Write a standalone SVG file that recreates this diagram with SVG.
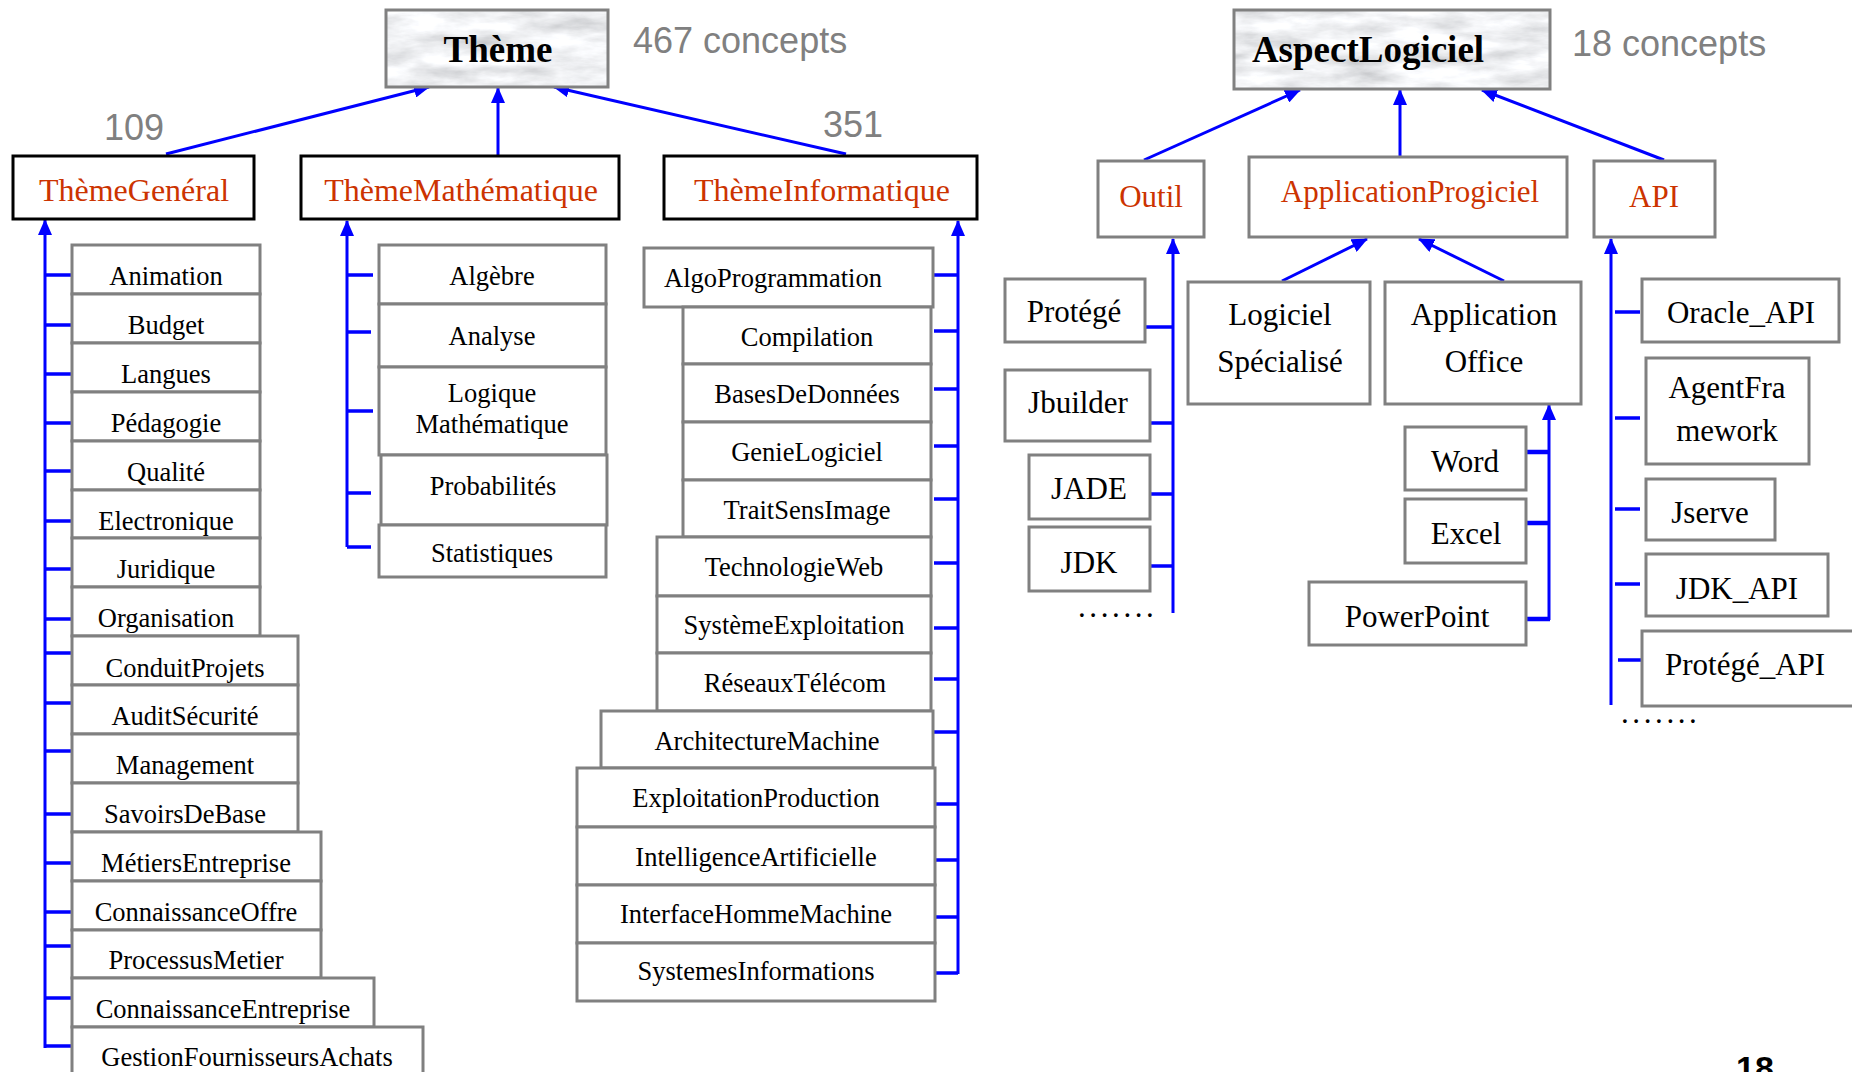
<svg xmlns="http://www.w3.org/2000/svg" width="1852" height="1072" viewBox="0 0 1852 1072">
  <style>
    .bg { fill: #ffffff; }
    .root { stroke: #808080; stroke-width: 3; }
    .cat { fill: #ffffff; stroke: #000000; stroke-width: 3; }
    .cat2 { fill: #ffffff; stroke: #808080; stroke-width: 3; }
    .box { fill: #ffffff; stroke: #808080; stroke-width: 3; }
    .rootTxt { font-family: "Liberation Serif", "Times New Roman", serif; font-weight: bold; font-size: 37px; fill: #000000; text-anchor: middle; }
    .catTxt { font-family: "Liberation Serif", "Times New Roman", serif; font-size: 32px; fill: #cc3300; text-anchor: middle; }
    .catTxt2 { font-family: "Liberation Serif", "Times New Roman", serif; font-size: 31px; fill: #cc3300; text-anchor: middle; }
    .t { font-family: "Liberation Serif", "Times New Roman", serif; font-size: 26.5px; fill: #000000; text-anchor: middle; }
    .t2 { font-family: "Liberation Serif", "Times New Roman", serif; font-size: 31px; fill: #000000; text-anchor: middle; }
    .count { font-family: "Liberation Sans", Arial, sans-serif; font-size: 36px; fill: #808080; }
    .dots { font-family: "Liberation Serif", "Times New Roman", serif; font-size: 31px; fill: #000000; letter-spacing: 3.6px; }
    .page { font-family: "Liberation Sans", Arial, sans-serif; font-weight: bold; font-size: 34px; fill: #000000; }
    .link { stroke: #0000ff; stroke-width: 3; fill: none; }
    .tick { stroke: #0000ff; stroke-width: 3.5; fill: none; }
  </style>
  <defs>
    <marker id="arr" markerUnits="userSpaceOnUse" markerWidth="16" markerHeight="14" refX="15" refY="7" orient="auto">
      <path d="M0,0 L16,7 L0,14 z" fill="#0000ff"/>
    </marker>
    <!-- light marble texture for the two root boxes -->
    <filter id="marble" x="0" y="0" width="1" height="1">
      <feTurbulence type="fractalNoise" baseFrequency="0.018 0.06" numOctaves="5" seed="11" result="n"/>
      <feColorMatrix in="n" type="matrix" values="0.7 0 0 0 0.52  0.7 0 0 0 0.53  0.7 0 0 0 0.55  0 0 0 0 1"/>
      <feComposite in2="SourceGraphic" operator="in"/>
    </filter>
  </defs>

  <rect class="bg" x="0" y="0" width="1852" height="1072"/>

  <!-- connectors -->
  <g id="connectors">
    <!-- Thème hierarchy -->
    <line class="link" x1="166" y1="154" x2="429" y2="87" marker-end="url(#arr)"/>
    <line class="link" x1="498" y1="156" x2="498" y2="88" marker-end="url(#arr)"/>
    <line class="link" x1="846" y1="154" x2="554" y2="87" marker-end="url(#arr)"/>

    <!-- ThèmeGenéral bus -->
    <line class="link" x1="45" y1="1048" x2="45" y2="220" marker-end="url(#arr)"/>
    <path class="tick" d="M44,275 H72 M44,325 H72 M46,374 H72 M46,423 H72 M46,471 H72 M46,521 H72 M46,569 H72 M46,619 H72 M46,653 H72 M46,703 H72 M46,751 H72 M46,814 H72 M46,863 H72 M46,912 H72 M46,946 H72 M46,998 H72 M46,1046 H72"/>

    <!-- ThèmeMathématique bus -->
    <line class="link" x1="347" y1="547" x2="347" y2="221" marker-end="url(#arr)"/>
    <path class="tick" d="M347,275 H373 M347,332 H371 M347,411 H373 M347,493 H371 M347,547 H371"/>

    <!-- ThèmeInformatique bus -->
    <line class="link" x1="958" y1="974" x2="958" y2="221" marker-end="url(#arr)"/>
    <path class="tick" d="M934,275 H958 M934,331 H958 M934,389 H958 M934,446 H958 M934,499 H958 M934,563 H958 M934,628 H958 M934,679 H958 M934,732 H958 M934,804 H958 M934,860 H958 M934,917 H958 M934,973 H958"/>

    <!-- AspectLogiciel hierarchy -->
    <line class="link" x1="1144" y1="160" x2="1300" y2="90" marker-end="url(#arr)"/>
    <line class="link" x1="1400" y1="157" x2="1400" y2="90" marker-end="url(#arr)"/>
    <line class="link" x1="1664" y1="160" x2="1482" y2="90" marker-end="url(#arr)"/>

    <!-- Outil bus -->
    <line class="link" x1="1173" y1="613" x2="1173" y2="239" marker-end="url(#arr)"/>
    <path class="tick" d="M1145,327 H1173 M1150,423 H1173 M1150,494 H1173 M1150,566 H1173"/>

    <!-- ApplicationProgiciel children -->
    <line class="link" x1="1282" y1="281" x2="1367" y2="239" marker-end="url(#arr)"/>
    <line class="link" x1="1504" y1="281" x2="1419" y2="239" marker-end="url(#arr)"/>

    <!-- Application Office bus -->
    <line class="link" x1="1549" y1="620" x2="1549" y2="405" marker-end="url(#arr)"/>
    <path class="tick" d="M1526,452 H1549 M1526,523 H1549 M1526,619 H1550" style="stroke-width:4.5"/>

    <!-- API bus -->
    <line class="link" x1="1611" y1="705" x2="1611" y2="239" marker-end="url(#arr)"/>
    <path class="tick" d="M1615,312 H1640 M1615,418 H1640 M1615,509 H1640 M1615,584 H1640 M1618,660 H1642"/>
  </g>

  <!-- root: Thème -->
  <g id="theme">
    <rect x="386" y="10" width="222" height="77" fill="#cccccc" filter="url(#marble)"/>
    <rect class="root" x="386" y="10" width="222" height="77" fill="none"/>
    <text class="rootTxt" x="498" y="62">Thème</text>
  </g>
  <text class="count" x="633" y="53">467 concepts</text>
  <text class="count" x="104" y="140">109</text>
  <text class="count" x="823" y="137">351</text>

  <g id="theme-general">
    <rect class="cat" x="13" y="156" width="241" height="63"/>
    <text class="catTxt" x="134" y="201">ThèmeGenéral</text>
  </g>
  <g id="theme-math">
    <rect class="cat" x="301" y="156" width="318" height="63"/>
    <text class="catTxt" x="461" y="201">ThèmeMathématique</text>
  </g>
  <g id="theme-info">
    <rect class="cat" x="664" y="156" width="313" height="63"/>
    <text class="catTxt" x="822" y="201">ThèmeInformatique</text>
  </g>

  <!-- ThèmeGenéral children -->
  <g id="g-animation"><rect class="box" x="72" y="245" width="188" height="49"/><text class="t" x="166" y="285">Animation</text></g>
  <g id="g-budget"><rect class="box" x="72" y="294" width="188" height="49"/><text class="t" x="166" y="334">Budget</text></g>
  <g id="g-langues"><rect class="box" x="72" y="343" width="188" height="49"/><text class="t" x="166" y="383">Langues</text></g>
  <g id="g-pedagogie"><rect class="box" x="72" y="392" width="188" height="49"/><text class="t" x="166" y="432">Pédagogie</text></g>
  <g id="g-qualite"><rect class="box" x="72" y="441" width="188" height="49"/><text class="t" x="166" y="481">Qualité</text></g>
  <g id="g-electronique"><rect class="box" x="72" y="490" width="188" height="48"/><text class="t" x="166" y="530">Electronique</text></g>
  <g id="g-juridique"><rect class="box" x="72" y="538" width="188" height="49"/><text class="t" x="166" y="578">Juridique</text></g>
  <g id="g-organisation"><rect class="box" x="72" y="587" width="188" height="49"/><text class="t" x="166" y="627">Organisation</text></g>
  <g id="g-conduitprojets"><rect class="box" x="72" y="636" width="226" height="49"/><text class="t" x="185" y="677">ConduitProjets</text></g>
  <g id="g-auditsecurite"><rect class="box" x="72" y="685" width="226" height="49"/><text class="t" x="185" y="725">AuditSécurité</text></g>
  <g id="g-management"><rect class="box" x="72" y="734" width="226" height="49"/><text class="t" x="185" y="774">Management</text></g>
  <g id="g-savoirsdebase"><rect class="box" x="72" y="783" width="226" height="49"/><text class="t" x="185" y="823">SavoirsDeBase</text></g>
  <g id="g-metiersentreprise"><rect class="box" x="72" y="832" width="249" height="49"/><text class="t" x="196" y="872">MétiersEntreprise</text></g>
  <g id="g-connaissanceoffre"><rect class="box" x="72" y="881" width="249" height="49"/><text class="t" x="196" y="921">ConnaissanceOffre</text></g>
  <g id="g-processusmetier"><rect class="box" x="72" y="930" width="249" height="48"/><text class="t" x="196" y="969">ProcessusMetier</text></g>
  <g id="g-connaissanceentreprise"><rect class="box" x="72" y="978" width="302" height="49"/><text class="t" x="223" y="1018">ConnaissanceEntreprise</text></g>
  <g id="g-gestionfournisseursachats"><rect class="box" x="72" y="1027" width="351" height="60"/><text class="t" x="247" y="1066">GestionFournisseursAchats</text></g>

  <!-- ThèmeMathématique children -->
  <g id="m-algebre"><rect class="box" x="379" y="245" width="227" height="59"/><text class="t" x="492" y="285">Algèbre</text></g>
  <g id="m-analyse"><rect class="box" x="379" y="304" width="227" height="63"/><text class="t" x="492" y="345">Analyse</text></g>
  <g id="m-logique"><rect class="box" x="379" y="367" width="227" height="88"/><text class="t" x="492" y="402">Logique</text><text class="t" x="492" y="433">Mathématique</text></g>
  <g id="m-probabilites"><rect class="box" x="381" y="455" width="226" height="70"/><text class="t" x="493" y="495">Probabilités</text></g>
  <g id="m-statistiques"><rect class="box" x="379" y="525" width="227" height="52"/><text class="t" x="492" y="562">Statistiques</text></g>

  <!-- ThèmeInformatique children -->
  <g id="i-algoprogrammation"><rect class="box" x="644" y="248" width="289" height="59"/><text class="t" x="773" y="287">AlgoProgrammation</text></g>
  <g id="i-compilation"><rect class="box" x="683" y="307" width="248" height="57"/><text class="t" x="807" y="346">Compilation</text></g>
  <g id="i-basesdedonnees"><rect class="box" x="683" y="364" width="248" height="58"/><text class="t" x="807" y="403">BasesDeDonnées</text></g>
  <g id="i-genielogiciel"><rect class="box" x="683" y="422" width="248" height="58"/><text class="t" x="807" y="461">GenieLogiciel</text></g>
  <g id="i-traitsensimage"><rect class="box" x="683" y="480" width="248" height="57"/><text class="t" x="807" y="519">TraitSensImage</text></g>
  <g id="i-technologieweb"><rect class="box" x="657" y="537" width="274" height="59"/><text class="t" x="794" y="576">TechnologieWeb</text></g>
  <g id="i-systemeexploitation"><rect class="box" x="657" y="596" width="274" height="57"/><text class="t" x="794" y="634">SystèmeExploitation</text></g>
  <g id="i-reseauxtelecom"><rect class="box" x="657" y="653" width="274" height="58"/><text class="t" x="795" y="692">RéseauxTélécom</text></g>
  <g id="i-architecturemachine"><rect class="box" x="601" y="711" width="332" height="57"/><text class="t" x="767" y="750">ArchitectureMachine</text></g>
  <g id="i-exploitationproduction"><rect class="box" x="577" y="768" width="358" height="59"/><text class="t" x="756" y="807">ExploitationProduction</text></g>
  <g id="i-intelligenceartificielle"><rect class="box" x="577" y="827" width="358" height="58"/><text class="t" x="756" y="866">IntelligenceArtificielle</text></g>
  <g id="i-interfacehommemachine"><rect class="box" x="577" y="885" width="358" height="58"/><text class="t" x="756" y="923">InterfaceHommeMachine</text></g>
  <g id="i-systemesinformations"><rect class="box" x="577" y="943" width="358" height="58"/><text class="t" x="756" y="980">SystemesInformations</text></g>

  <!-- root: AspectLogiciel -->
  <g id="aspect-logiciel">
    <rect x="1234" y="10" width="316" height="79" fill="#cccccc" filter="url(#marble)"/>
    <rect class="root" x="1234" y="10" width="316" height="79" fill="none"/>
    <text class="rootTxt" x="1368" y="62">AspectLogiciel</text>
  </g>
  <text class="count" x="1572" y="56">18 concepts</text>

  <g id="outil">
    <rect class="cat2" x="1098" y="161" width="106" height="76"/>
    <text class="catTxt2" x="1151" y="207">Outil</text>
  </g>
  <g id="application-progiciel">
    <rect class="cat2" x="1249" y="157" width="318" height="80"/>
    <text class="catTxt2" x="1410" y="202">ApplicationProgiciel</text>
  </g>
  <g id="api">
    <rect class="cat2" x="1594" y="161" width="121" height="76"/>
    <text class="catTxt2" x="1654" y="207">API</text>
  </g>

  <!-- Outil children -->
  <g id="o-protege"><rect class="box" x="1005" y="279" width="140" height="63"/><text class="t2" x="1074" y="322">Protégé</text></g>
  <g id="o-jbuilder"><rect class="box" x="1005" y="370" width="145" height="71"/><text class="t2" x="1078" y="413">Jbuilder</text></g>
  <g id="o-jade"><rect class="box" x="1029" y="455" width="121" height="64"/><text class="t2" x="1089" y="499">JADE</text></g>
  <g id="o-jdk"><rect class="box" x="1029" y="527" width="121" height="64"/><text class="t2" x="1089" y="573">JDK</text></g>
  <text class="dots" x="1078" y="617">.......</text>

  <!-- ApplicationProgiciel children -->
  <g id="a-logiciel-specialise"><rect class="box" x="1188" y="282" width="182" height="122"/><text class="t2" x="1280" y="325">Logiciel</text><text class="t2" x="1280" y="372">Spécialisé</text></g>
  <g id="a-application-office"><rect class="box" x="1385" y="282" width="196" height="122"/><text class="t2" x="1484" y="325">Application</text><text class="t2" x="1484" y="372">Office</text></g>
  <g id="a-word"><rect class="box" x="1405" y="427" width="121" height="63"/><text class="t2" x="1465" y="472">Word</text></g>
  <g id="a-excel"><rect class="box" x="1405" y="499" width="121" height="64"/><text class="t2" x="1466" y="544">Excel</text></g>
  <g id="a-powerpoint"><rect class="box" x="1309" y="582" width="217" height="63"/><text class="t2" x="1417" y="627">PowerPoint</text></g>

  <!-- API children -->
  <g id="p-oracle-api"><rect class="box" x="1642" y="279" width="197" height="63"/><text class="t2" x="1741" y="323">Oracle_API</text></g>
  <g id="p-agentframework"><rect class="box" x="1646" y="358" width="163" height="106"/><text class="t2" x="1727" y="398">AgentFra</text><text class="t2" x="1727" y="441">mework</text></g>
  <g id="p-jserve"><rect class="box" x="1646" y="479" width="129" height="61"/><text class="t2" x="1710" y="523">Jserve</text></g>
  <g id="p-jdk-api"><rect class="box" x="1646" y="554" width="182" height="62"/><text class="t2" x="1737" y="599">JDK_API</text></g>
  <g id="p-protege-api"><rect class="box" x="1642" y="631" width="240" height="75"/><text class="t2" x="1665" y="675" style="text-anchor:start">Protégé_API</text></g>
  <text class="dots" x="1621" y="723">.......</text>

  <text class="page" x="1736" y="1080">18</text>
</svg>
